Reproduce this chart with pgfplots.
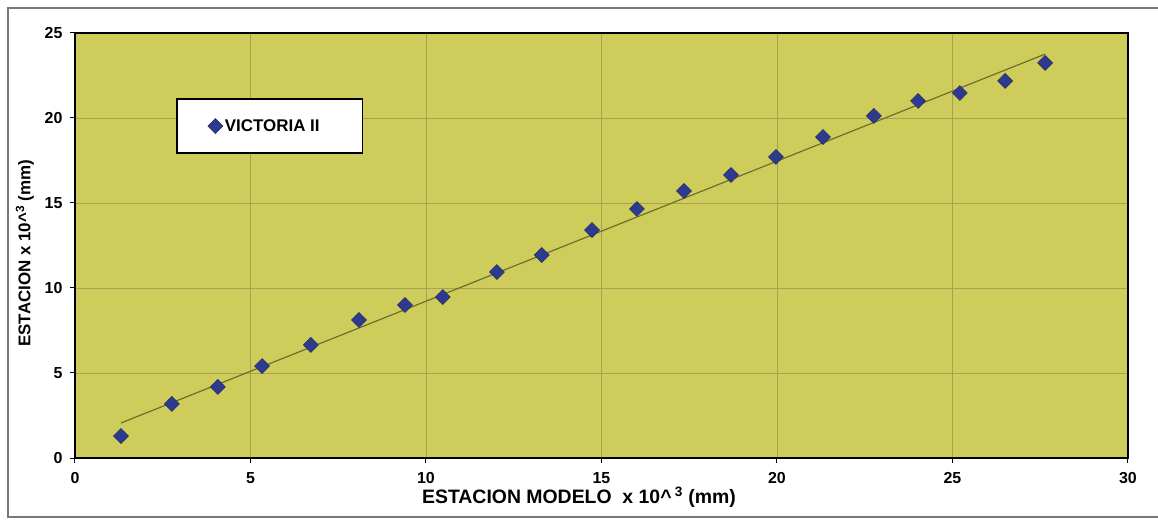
\documentclass[border=0pt]{standalone}
\usepackage{fontspec}
\setmainfont{Liberation Sans}
\usepackage{pgfplots}
\pgfplotsset{compat=1.18}
\definecolor{plotbg}{RGB}{206,204,90}
\definecolor{gridc}{RGB}{165,163,80}
\definecolor{markc}{RGB}{46,58,142}
\definecolor{trendc}{RGB}{105,112,48}
\definecolor{framec}{RGB}{120,120,120}
\begin{document}
\begin{tikzpicture}
\path[use as bounding box] (-75bp,-64bp) rectangle (1083bp,458bp);
\draw[framec, line width=1.5bp] (1083bp,450bp) -- (-67bp,450bp) -- (-67bp,-59bp) -- (1083bp,-59bp);
\begin{axis}[
  scale only axis,
  width=1053bp, height=425bp,
  at={(0,0)}, anchor=south west,
  xmin=0, xmax=30, ymin=0, ymax=25,
  xtick={0,5,...,30}, ytick={0,5,...,25},
  xtick pos=bottom, ytick pos=left,
  axis background/.style={fill=plotbg},
  axis line style={line width=2.5bp, black},
  grid=major,
  major grid style={gridc, line width=0.8bp},
  tick align=outside,
  major tick length=5bp,
  tick style={black, line width=1bp},
  /pgf/number format/assume math mode=true,
  ticklabel style={font=\fontsize{16}{16}\selectfont\bfseries},
  xticklabel style={yshift=-6bp},
  yticklabel style={xshift=-4bp},
  xlabel={ESTACION MODELO\ \ x 10\textasciicircum\,$^{\mathbf{3}}$ (mm)},
  ylabel={ESTACION x 10\textasciicircum$^{\mathbf{3}}$ (mm)},
  xlabel style={at={(axis description cs:0.4786,-0.092)}, anchor=center, font=\fontsize{19.5}{19.5}\selectfont\bfseries},
  ylabel style={at={(axis description cs:-0.0475,0.482)}, anchor=center, rotate=0, font=\fontsize{17}{17}\selectfont\bfseries},
  legend style={at={(axis description cs:0.0959,0.847)}, anchor=north west, draw=black, line width=1.8bp, fill=white, inner xsep=31bp, inner ysep=18.5bp, font=\fontsize{17}{17}\selectfont\bfseries},
  legend cell align=left,
]
\addplot[only marks, mark=square*, mark size=5.3bp, mark options={rotate=45, fill=markc, draw=markc!70!black, line width=0.5bp}] coordinates {
(1.31,1.29) (2.76,3.18) (4.07,4.18) (5.33,5.41) (6.72,6.65) (8.09,8.12)
(9.40,9.00) (10.48,9.47) (12.02,10.94) (13.30,11.94) (14.73,13.41)
(16.01,14.65) (17.35,15.71) (18.69,16.65) (19.97,17.71) (21.31,18.88)
(22.76,20.12) (24.02,21.00) (25.21,21.47) (26.50,22.18) (27.64,23.24)
};
\addlegendentry{VICTORIA II\hspace*{10bp}}
\addplot[trendc, line width=1.2bp, forget plot] coordinates {(1.31,2.06) (27.64,23.76)};
\end{axis}
\end{tikzpicture}
\end{document}
